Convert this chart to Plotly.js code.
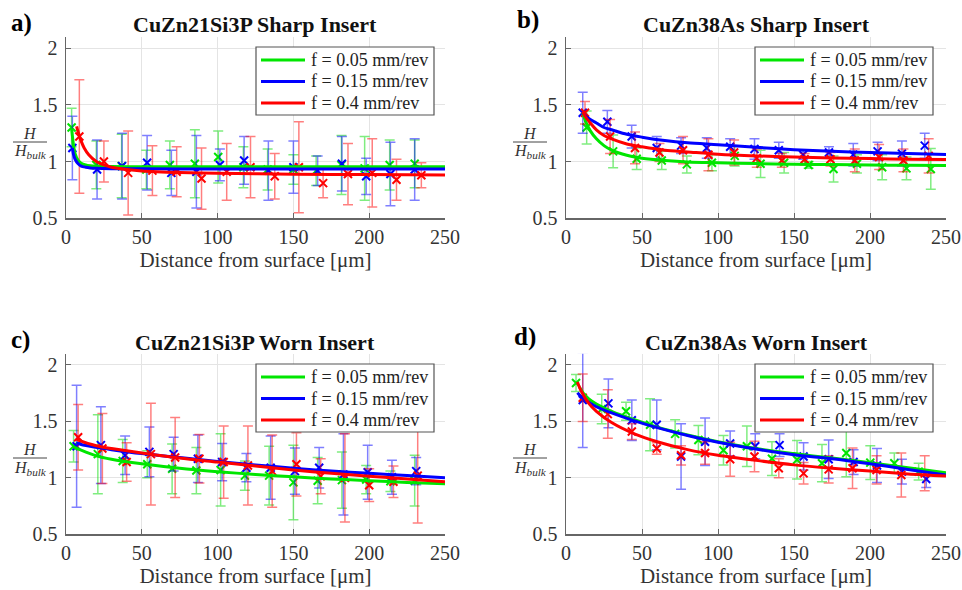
<!DOCTYPE html>
<html>
<head>
<meta charset="utf-8">
<script src="https://cdn.plot.ly/plotly-3.0.1.min.js"></script>
<style>html,body{margin:0;padding:0;background:#fff;}#chart{width:962px;height:590px;}</style>
</head>
<body>
<div id="chart"></div>
<script>
// ---------- labels ----------
const panelLabels = ["a)", "b)", "c)", "d)"];
const panelTitles = ["CuZn21Si3P Sharp Insert", "CuZn38As Sharp Insert", "CuZn21Si3P Worn Insert", "CuZn38As Worn Insert"];
const seriesNames = ["f = 0.05 mm/rev", "f = 0.15 mm/rev", "f = 0.4 mm/rev"];
const xTickVals = [0, 50, 100, 150, 200, 250];
const yTickVals = [0.5, 1, 1.5, 2];
const yTickText = ["0.5", "1", "1.5", "2"];
const xAxisTitle = "Distance from surface [μm]";

// ---------- panel a: CuZn21Si3P Sharp ----------
const aGx = [3.7, 20, 36.7, 53, 68.5, 85, 100.4, 117, 133, 150, 165, 181.7, 197, 213.5, 230];
const aGy = [1.30, 0.97, 0.96, 0.93, 0.97, 0.98, 1.04, 0.95, 0.93, 0.93, 0.92, 0.97, 0.94, 0.97, 0.98];
const aGe = [0.17, 0.21, 0.28, 0.17, 0.21, 0.30, 0.23, 0.18, 0.18, 0.13, 0.13, 0.26, 0.28, 0.22, 0.21];
const aBx = [4.2, 20.5, 37, 53.5, 69.5, 86, 101.5, 117.5, 133.5, 150, 166, 182, 198, 214, 230];
const aBy = [1.12, 0.93, 0.96, 0.99, 0.90, 0.91, 0.97, 1.01, 0.92, 0.95, 0.92, 0.98, 0.87, 0.89, 0.93];
const aBe = [0.28, 0.26, 0.29, 0.24, 0.20, 0.32, 0.14, 0.21, 0.26, 0.23, 0.13, 0.24, 0.16, 0.28, 0.27];
const aRx = [8.8, 25, 41, 57, 73, 89.4, 106, 121.7, 137.7, 153.6, 169.6, 186, 202, 218, 234.4];
const aRy = [1.22, 1.00, 0.90, 0.92, 0.91, 0.85, 0.91, 0.95, 0.87, 0.95, 0.81, 0.89, 0.90, 0.84, 0.88];
const aRe = [0.50, 0.18, 0.37, 0.22, 0.22, 0.27, 0.25, 0.27, 0.20, 0.40, 0.13, 0.27, 0.30, 0.18, 0.11];
const aFitGx = [3.7, 5, 6, 8, 10, 13, 16, 20, 30, 50, 100, 150, 200, 250];
const aFitGy = [1.29, 1.14, 1.07, 1.01, 0.985, 0.97, 0.963, 0.959, 0.956, 0.955, 0.955, 0.955, 0.955, 0.955];
const aFitBx = [4.2, 5, 6, 8, 10, 13, 16, 20, 30, 50, 100, 150, 200, 250];
const aFitBy = [1.12, 1.06, 1.02, 0.98, 0.96, 0.95, 0.944, 0.94, 0.937, 0.936, 0.935, 0.935, 0.935, 0.935];
const aFitRx = [7, 8, 10, 12, 15, 20, 25, 30, 40, 50, 75, 100, 150, 200, 250];
const aFitRy = [1.31, 1.26, 1.18, 1.12, 1.06, 1.00, 0.97, 0.95, 0.93, 0.917, 0.903, 0.896, 0.889, 0.885, 0.882];

// ---------- panel b: CuZn38As Sharp ----------
const bGx = [13.6, 31, 46.5, 63, 79.5, 96, 111, 128, 143.5, 159.6, 176, 191.4, 208, 224, 240];
const bGy = [1.30, 1.09, 1.025, 1.01, 0.975, 0.99, 1.05, 0.98, 0.99, 0.97, 0.935, 0.98, 0.95, 0.94, 0.935];
const bGe = [0.145, 0.145, 0.095, 0.08, 0.075, 0.07, 0.09, 0.12, 0.09, 0.03, 0.115, 0.08, 0.11, 0.10, 0.18];
const bBx = [11, 27.2, 43.2, 59.7, 75.7, 92.6, 108, 124, 140, 156, 173, 189, 205, 221, 236];
const bBy = [1.43, 1.35, 1.22, 1.12, 1.14, 1.12, 1.13, 1.11, 1.10, 1.06, 1.08, 1.06, 1.09, 1.07, 1.14];
const bBe = [0.18, 0.10, 0.10, 0.10, 0.07, 0.09, 0.07, 0.09, 0.07, 0.04, 0.05, 0.10, 0.08, 0.11, 0.11];
const bRx = [12.5, 29, 45.4, 61.5, 77, 93.7, 110.6, 125.5, 142, 157, 174, 190, 206, 222, 238.6];
const bRy = [1.43, 1.22, 1.12, 1.08, 1.10, 1.06, 1.08, 1.03, 1.01, 1.02, 1.02, 1.01, 1.04, 1.01, 1.05];
const bRe = [0.10, 0.15, 0.14, 0.08, 0.12, 0.14, 0.11, 0.08, 0.06, 0.05, 0.06, 0.10, 0.11, 0.10, 0.15];
const bFitX = [11, 13, 16, 20, 25, 30, 40, 50, 65, 80, 100, 125, 150, 175, 200, 225, 250];
const bFitGy = [1.43, 1.35, 1.27, 1.20, 1.14, 1.10, 1.055, 1.03, 1.01, 0.997, 0.99, 0.982, 0.977, 0.973, 0.97, 0.967, 0.965];
const bFitBy = [1.43, 1.40, 1.37, 1.34, 1.30, 1.28, 1.24, 1.215, 1.185, 1.165, 1.148, 1.125, 1.105, 1.09, 1.08, 1.07, 1.062];
const bFitRy = [1.44, 1.39, 1.34, 1.28, 1.23, 1.20, 1.155, 1.13, 1.10, 1.085, 1.065, 1.05, 1.04, 1.032, 1.026, 1.02, 1.017];

// ---------- panel c: CuZn21Si3P Worn ----------
const cGx = [5, 21, 37.4, 53.6, 70, 86, 102, 118, 134, 150, 166, 182, 198, 214, 230];
const cGy = [1.28, 1.21, 1.15, 1.12, 1.08, 1.065, 1.07, 1.02, 1.02, 0.96, 0.975, 0.98, 0.985, 0.97, 0.975];
const cGe = [0.14, 0.35, 0.19, 0.12, 0.22, 0.205, 0.32, 0.13, 0.26, 0.33, 0.205, 0.25, 0.125, 0.09, 0.225];
const cBx = [7, 23, 39, 55, 71, 87, 103, 119, 135, 151, 167, 183, 199, 215, 231];
const cBy = [1.28, 1.29, 1.20, 1.23, 1.21, 1.17, 1.14, 1.09, 1.09, 1.06, 1.09, 1.03, 1.05, 1.005, 1.06];
const cBe = [0.54, 0.34, 0.17, 0.22, 0.15, 0.21, 0.165, 0.125, 0.28, 0.205, 0.18, 0.36, 0.24, 0.15, 0.12];
const cRx = [8, 24, 40, 56, 72, 88, 104, 120, 136, 152, 168, 184, 200, 216, 232];
const cRy = [1.36, 1.26, 1.14, 1.21, 1.18, 1.17, 1.14, 1.11, 1.06, 1.12, 1.015, 1.00, 0.935, 0.965, 1.02];
const cRe = [0.29, 0.31, 0.17, 0.45, 0.355, 0.215, 0.32, 0.35, 0.32, 0.28, 0.155, 0.39, 0.145, 0.14, 0.42];
const cFitGx = [5, 10, 20, 30, 50, 75, 100, 125, 150, 175, 200, 225, 250];
const cFitGy = [1.275, 1.245, 1.195, 1.165, 1.125, 1.085, 1.055, 1.03, 1.01, 0.99, 0.975, 0.96, 0.948];
const cFitBRx = [7, 10, 20, 30, 50, 75, 100, 125, 150, 175, 200, 225, 250];
const cFitBy = [1.31, 1.295, 1.27, 1.25, 1.215, 1.18, 1.145, 1.115, 1.085, 1.06, 1.04, 1.02, 1.00];
const cFitRy = [1.345, 1.325, 1.285, 1.26, 1.22, 1.175, 1.14, 1.105, 1.07, 1.04, 1.015, 0.99, 0.965];

// ---------- panel d: CuZn38As Worn ----------
const dGx = [6.6, 23.5, 39.5, 55.3, 71.8, 87.1, 103.6, 119, 135.5, 152, 168.4, 184.4, 200.2, 216, 232];
const dGy = [1.84, 1.61, 1.59, 1.47, 1.39, 1.335, 1.245, 1.28, 1.17, 1.16, 1.13, 1.22, 1.135, 1.13, 1.055];
const dGe = [0.075, 0.13, 0.08, 0.23, 0.125, 0.13, 0.13, 0.18, 0.15, 0.17, 0.165, 0.21, 0.15, 0.09, 0.075];
const dBx = [11, 27.9, 43.3, 59.7, 75.7, 91.5, 108, 124.5, 140.5, 156.3, 172.8, 189.2, 204.6, 221, 237];
const dBy = [1.69, 1.66, 1.51, 1.47, 1.19, 1.32, 1.305, 1.28, 1.29, 1.19, 1.165, 1.14, 1.11, 1.055, 0.99];
const dBe = [0.42, 0.215, 0.18, 0.22, 0.29, 0.21, 0.11, 0.11, 0.10, 0.12, 0.17, 0.11, 0.15, 0.11, 0.075];
const dRx = [11, 27.5, 43.3, 59.7, 75.7, 91.5, 108, 124, 140, 156.3, 172.8, 188.5, 204.3, 220.6, 236];
const dRy = [1.71, 1.565, 1.41, 1.26, 1.20, 1.22, 1.165, 1.19, 1.085, 1.04, 1.075, 1.085, 1.07, 1.025, 1.04];
const dRe = [0.21, 0.215, 0.07, 0.05, 0.085, 0.10, 0.15, 0.135, 0.085, 0.095, 0.12, 0.18, 0.125, 0.195, 0.155];
const dFitGx = [9, 12, 15, 20, 30, 45, 60, 80, 100, 125, 150, 175, 200, 225, 250];
const dFitGy = [1.80, 1.74, 1.70, 1.655, 1.59, 1.515, 1.45, 1.38, 1.32, 1.26, 1.215, 1.175, 1.135, 1.09, 1.046];
const dFitBRx = [7.5, 10, 15, 20, 30, 45, 60, 80, 100, 125, 150, 175, 200, 225, 250];
const dFitBy = [1.755, 1.72, 1.67, 1.63, 1.575, 1.505, 1.445, 1.375, 1.315, 1.255, 1.205, 1.17, 1.125, 1.075, 1.026];
const dFitRy = [1.85, 1.77, 1.66, 1.59, 1.49, 1.39, 1.32, 1.25, 1.20, 1.155, 1.115, 1.085, 1.06, 1.035, 1.017];

// ---------- styling ----------
const lineCols = ["#00e600", "#0000ff", "#ff0000"];
const barCols = ["rgba(0,220,0,0.5)", "rgba(0,0,255,0.5)", "rgba(255,0,0,0.5)"];
const SERIF = "Liberation Serif, Times New Roman, serif";
const W = 962, H = 590;

const panels = [
  {ax: "", data: [[aGx, aGy, aGe], [aBx, aBy, aBe], [aRx, aRy, aRe]], fits: [[aFitGx, aFitGy], [aFitBx, aFitBy], [aFitRx, aFitRy]]},
  {ax: "2", data: [[bGx, bGy, bGe], [bBx, bBy, bBe], [bRx, bRy, bRe]], fits: [[bFitX, bFitGy], [bFitX, bFitBy], [bFitX, bFitRy]]},
  {ax: "3", data: [[cGx, cGy, cGe], [cBx, cBy, cBe], [cRx, cRy, cRe]], fits: [[cFitGx, cFitGy], [cFitBRx, cFitBy], [cFitBRx, cFitRy]]},
  {ax: "4", data: [[dGx, dGy, dGe], [dBx, dBy, dBe], [dRx, dRy, dRe]], fits: [[dFitGx, dFitGy], [dFitBRx, dFitBy], [dFitBRx, dFitRy]]}
];

const traces = [];
panels.forEach(p => {
  p.data.forEach((s, i) => {
    traces.push({
      type: "scatter", mode: "markers", x: s[0], y: s[1], name: seriesNames[i] + " data",
      xaxis: "x" + p.ax, yaxis: "y" + p.ax, showlegend: false, hoverinfo: "skip",
      marker: {symbol: "x-thin", size: 8, line: {width: 2, color: lineCols[i]}, color: lineCols[i]},
      error_y: {type: "data", array: s[2], visible: true, color: barCols[i], thickness: 1.5, width: 5}
    });
  });
  p.fits.forEach((f, i) => {
    traces.push({
      type: "scatter", mode: "lines", x: f[0], y: f[1], name: seriesNames[i],
      xaxis: "x" + p.ax, yaxis: "y" + p.ax, showlegend: false, hoverinfo: "skip",
      line: {color: lineCols[i], width: 3, shape: "spline", smoothing: 0.8}
    });
  });
});

// ---------- geometry (px) ----------
const colX = [[66, 445], [566, 946]];
const rowY = [[36.7, 218.3], [353.7, 534.3]];
function axisPair(col, row) {
  const x = {
    domain: [colX[col][0] / W, colX[col][1] / W], range: [0, 250], tickvals: xTickVals,
    showgrid: true, gridcolor: "#e4e4e4", gridwidth: 1, zeroline: false,
    showline: true, linecolor: "#666", linewidth: 1.5, ticks: "inside", ticklen: 5, tickcolor: "#666",
    tickfont: {family: SERIF, size: 20, color: "#333"}, ticklabelstandoff: 0,
    title: {text: xAxisTitle, font: {family: SERIF, size: 21, color: "#333"}, standoff: 5},
    fixedrange: true
  };
  const y = {
    domain: [1 - rowY[row][1] / H, 1 - rowY[row][0] / H], range: [0.5, 2.1], tickvals: yTickVals, ticktext: yTickText,
    showgrid: true, gridcolor: "#e4e4e4", gridwidth: 1, zeroline: false,
    showline: true, linecolor: "#666", linewidth: 1.5, ticks: "inside", ticklen: 5, tickcolor: "#666",
    tickfont: {family: SERIF, size: 20, color: "#333"}, ticklabelstandoff: 3, fixedrange: true
  };
  return [x, y];
}

const layout = {
  width: W, height: H, margin: {l: 0, r: 0, t: 0, b: 0}, paper_bgcolor: "#fff", plot_bgcolor: "#fff",
  showlegend: false, annotations: [], shapes: []
};
const pos = [[0, 0], [1, 0], [0, 1], [1, 1]];
const legendBox = [[256, 47], [755, 47], [256, 364], [755, 364]];
const labelXY = [[21, 23], [528, 20], [20, 340], [525, 337]];
const titleY = [24, 24, 342, 342];
const fracX = [30, 530];
const fracY = [142, 142, 458, 458];

pos.forEach((pr, k) => {
  const [xa, ya] = axisPair(pr[0], pr[1]);
  const sfx = k === 0 ? "" : String(k + 1);
  xa.anchor = "y" + sfx; ya.anchor = "x" + sfx;
  layout["xaxis" + sfx] = xa; layout["yaxis" + sfx] = ya;

  // legend box drawn in page coordinates
  const lx = legendBox[k][0], ly = legendBox[k][1];
  layout.shapes.push({
    type: "rect", xref: "paper", yref: "paper", x0: lx / W, x1: (lx + 178) / W,
    y0: 1 - (ly + 68) / H, y1: 1 - ly / H, line: {color: "#555", width: 1.2}, fillcolor: "#fff", layer: "above"
  });
  seriesNames.forEach((nm, i) => {
    const ry = ly + 13 + i * 21.5;
    layout.shapes.push({
      type: "line", xref: "paper", yref: "paper", x0: (lx + 5) / W, x1: (lx + 49) / W,
      y0: 1 - ry / H, y1: 1 - ry / H, line: {color: lineCols[i], width: 3}, layer: "above"
    });
    layout.annotations.push({
      text: nm, x: (lx + 53) / W, y: 1 - ry / H, xref: "paper", yref: "paper",
      xanchor: "left", yanchor: "middle", showarrow: false, font: {family: SERIF, size: 18, color: "#222"}
    });
  });

  const cx = (colX[pr[0]][0] + colX[pr[0]][1]) / 2;
  layout.annotations.push({
    text: "<b>" + panelTitles[k] + "</b>", x: cx / W, y: 1 - titleY[k] / H, xref: "paper", yref: "paper",
    xanchor: "center", yanchor: "middle", showarrow: false, font: {family: SERIF, size: 22, color: "#111"}
  });
  layout.annotations.push({
    text: "<b>" + panelLabels[k] + "</b>", x: labelXY[k][0] / W, y: 1 - labelXY[k][1] / H, xref: "paper", yref: "paper",
    xanchor: "center", yanchor: "middle", showarrow: false, font: {family: SERIF, size: 25, color: "#000"}
  });
  const fx = fracX[pr[0]], fy = fracY[k];
  layout.annotations.push({
    text: "<i>H</i>", x: fx / W, y: 1 - (fy - 9) / H, xref: "paper", yref: "paper",
    xanchor: "center", yanchor: "middle", showarrow: false, font: {family: SERIF, size: 16, color: "#333"}
  });
  layout.annotations.push({
    text: "<i>H<sub>bulk</sub></i>", x: fx / W, y: 1 - (fy + 10) / H, xref: "paper", yref: "paper",
    xanchor: "center", yanchor: "middle", showarrow: false, font: {family: SERIF, size: 16, color: "#333"}
  });
  layout.shapes.push({
    type: "line", xref: "paper", yref: "paper", x0: (fx - 17) / W, x1: (fx + 17) / W,
    y0: 1 - fy / H, y1: 1 - fy / H, line: {color: "#444", width: 1}
  });
});

Plotly.newPlot("chart", traces, layout, {staticPlot: true, displayModeBar: false});
</script>
</body>
</html>
